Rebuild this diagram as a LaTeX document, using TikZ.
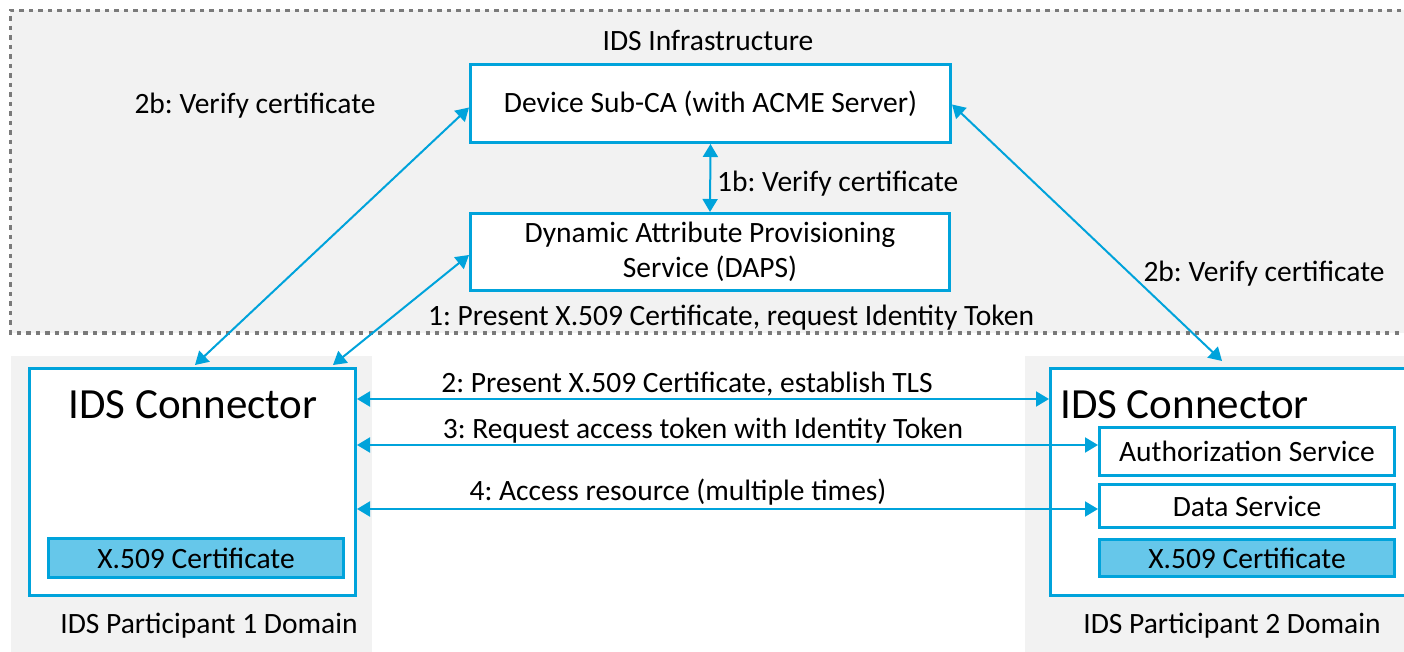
\documentclass[tikz,border=0pt]{standalone}
\usepackage{fontspec}
\setmainfont{Carlito}
\usetikzlibrary{arrows.meta}
\definecolor{ids}{HTML}{00A3DB}
\definecolor{cert}{HTML}{66C7EA}
\definecolor{bg}{HTML}{F2F2F2}
\definecolor{dots}{HTML}{7A7A7A}
\begin{document}
\frenchspacing
\begin{tikzpicture}[x=1pt,y=-1pt,
  box/.style={draw=ids, line width=3pt, fill=white, inner sep=0pt},
  certbox/.style={draw=ids, line width=3pt, fill=cert, inner sep=0pt, font=\fontsize{29.5}{35}\selectfont},
  arr/.style={draw=ids, line width=2pt, {Triangle[length=13pt,width=15pt]}-{Triangle[length=13pt,width=15pt]}},
  txt/.style={font=\fontsize{29.5}{35}\selectfont, inner sep=0pt},
  big/.style={font=\fontsize{43}{50}\selectfont, inner sep=0pt}]
\clip (0,0) rectangle (1404,652);
\fill[white] (0,0) rectangle (1404,652);
\fill[bg] (10,10) rectangle (1420,333);
\draw[dots, line width=3.8pt, dash pattern=on 4.2pt off 5.3pt] (1420,10.5) -- (10.5,10.5) -- (10.5,333) -- (1420,333);
\fill[bg] (11,356) rectangle (372,652);
\fill[bg] (1025,356) rectangle (1420,652);

\node[txt] (infra) at (708,40) {IDS Infrastructure};
\node[box, txt, minimum width=480pt, minimum height=78pt] (ca) at (710.5,103.5) {Device Sub-CA (with ACME Server)};
\node[box, txt, minimum width=479pt, minimum height=77pt, align=center, font=\fontsize{29.5}{35}\selectfont] (daps) at (710,252) {Dynamic Attribute Provisioning\\Service (DAPS)};

\node[box, minimum width=326pt, minimum height=227pt] (lc) at (192.5,482) {};
\node[big] (lct) at (193,405) {IDS Connector};
\node[certbox, minimum width=295pt, minimum height=39pt] (lcert) at (196,558) {X.509 Certificate};
\node[txt] (p1) at (209,626) {IDS Participant 1 Domain};

\node[box, minimum width=358pt, minimum height=227pt] (rc) at (1229.5,482) {};
\node[big, anchor=west] (rct) at (1060,405) {IDS Connector};
\node[box, txt, minimum width=295pt, minimum height=48pt] (auth) at (1247,451.5) {Authorization Service};
\node[box, txt, minimum width=295pt, minimum height=43pt] (data) at (1247,506) {Data Service};
\node[certbox, minimum width=295pt, minimum height=37pt] (rcert) at (1247,558) {X.509 Certificate};
\node[txt] (p2) at (1232,626) {IDS Participant 2 Domain};

\draw[arr] (ca.south) -- (daps.north);
\node[txt, anchor=west] (l1b) at (717,184) {1b: Verify certificate};

\draw[arr] ([xshift=167pt,yshift=2pt]lc.north west) -- ([yshift=-4pt]ca.west);
\node[txt] (l2bl) at (255,106) {2b: Verify certificate};
\draw[arr] ([xshift=305pt,yshift=2pt]lc.north west) -- ([yshift=-3pt]daps.west);
\node[txt] (l1) at (731,318) {1: Present X.509 Certificate, request Identity Token};
\draw[arr] ([yshift=-1pt]ca.east) -- ([xshift=173pt,yshift=6pt]rc.north west);
\node[txt] (l2br) at (1264,274) {2b: Verify certificate};

\draw[arr] ([yshift=83pt]lc.east) -- ([yshift=83pt]rc.west);
\node[txt] (l2) at (687,384) {2: Present X.509 Certificate, establish TLS};
\draw[arr] ([yshift=37pt]lc.east) -- ([yshift=6.5pt]auth.west);
\node[txt] (l3) at (703,431) {3: Request access token with Identity Token};
\draw[arr] ([yshift=-27pt]lc.east) -- ([yshift=-3pt]data.west);
\node[txt] (l4) at (678,492) {4: Access resource (multiple times)};
\end{tikzpicture}
\end{document}
